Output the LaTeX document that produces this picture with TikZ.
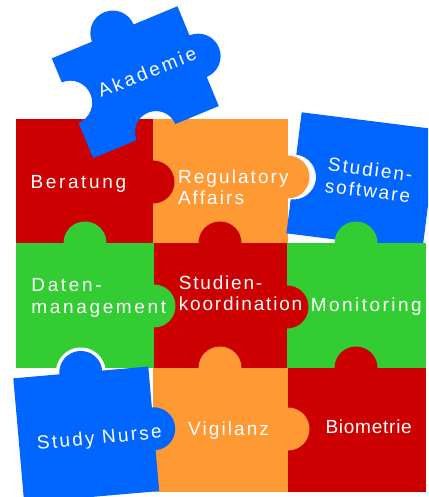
\documentclass[tikz,border=0pt]{standalone}
\usepackage{fontspec}
\setmainfont{Liberation Sans}
\definecolor{pzred}{HTML}{CC0000}
\definecolor{pzorange}{HTML}{FF9933}
\definecolor{pzgreen}{HTML}{33CC33}
\definecolor{pzblue}{HTML}{0066FF}
\tikzset{
  lbl/.style={text=white, inner sep=0pt,
    font=\fontsize{19}{21.5}\selectfont\addfontfeature{LetterSpace=#1}},
  lbl/.default=12,
  knobr/.style={radius=21.5}
}
\begin{document}
\begin{tikzpicture}[x=1pt,y=-1pt]
\useasboundingbox (0,0) rectangle (428,497);
\clip (0,0) rectangle (428,497);
% Regulatory Affairs body and tab
\fill[pzorange] (153,119) rectangle (288,243);
\fill[pzorange] (288,177) circle[knobr];
% Studiensoftware piece
\begin{scope}[shift={(362,181.4)}, rotate=-7.2]
  \fill[pzblue] (-68.5,-61) -- (68.5,-61) -- (68.5,61) -- (-68.5,61) -- (-68.5,26.7)
    arc[start angle=90, end angle=-90, radius=22.5] -- cycle;
\end{scope}
% grid bodies
\fill[pzred] (16,119) rectangle (153,243);
\fill[pzgreen] (16,243) rectangle (154,368);
\fill[pzred] (154,243) rectangle (287,368);
\fill[pzgreen] (287,243) rectangle (426,368);
\fill[pzorange] (153,368) rectangle (288,492);
\fill[pzred] (288,368) rectangle (426,492);
% grid tabs
\fill[pzred] (153,182) circle[knobr];
\fill[pzgreen] (85,243) circle[knobr];
\fill[pzgreen] (154,306) circle[knobr];
\fill[pzgreen] (356,243) circle[knobr];
\fill[pzred] (220,243) circle[knobr];
\fill[pzred] (287,307) circle[knobr];
\fill[pzred] (356,368) circle[knobr];
\fill[pzorange] (220,368) circle[knobr];
\fill[pzorange] (288,429) circle[knobr];
% Akademie piece
\begin{scope}[shift={(135.3,82.2)}, rotate=22.5]
  \fill[pzblue] (-68,-54) -- (-24.5,-54) arc[start angle=180, end angle=360, radius=22.5]
    -- (68,-54) -- (68,-22.5) arc[start angle=-90, end angle=90, radius=22.5]
    -- (68,54) -- (21,54) arc[start angle=0, end angle=-180, radius=21]
    -- (-68,54) -- (-68,16) arc[start angle=90, end angle=-90, radius=22] -- cycle;
\end{scope}
% Study Nurse piece
\begin{scope}[shift={(86.25,434.7)}, rotate=5]
  \fill[white] (0,-62.5) circle[radius=25];
  \fill[pzblue] (-67.75,-62.5) -- (-21.5,-62.5) arc[start angle=180, end angle=360, radius=21.5]
    -- (67.75,-62.5) -- (67.75,-21.5) arc[start angle=-90, end angle=90, radius=21.5]
    -- (67.75,62.5) -- (-67.75,62.5) -- cycle;
\end{scope}
% labels
\node[lbl=15, rotate=22] (akademie) at (147,72) {Akademie};
\node[lbl=14, anchor=base west] (beratung) at (30.3,188.3) {Beratung};
\node[lbl=11, anchor=north west, align=left] (regaff) at (177.8,169.4) {Regulatory\\Affairs};
\node[lbl=10.5, rotate=-7.2, align=center] (software) at (369,180) {Studien-\\software};
\node[lbl=14, anchor=north west, align=left] (daten) at (31.2,278.4) {Daten-\\management};
\node[lbl=9.5, anchor=north west, align=left] (koord) at (178.7,275.4) {Studien-\\koordination};
\node[lbl=13, anchor=base west] (monitoring) at (310.6,311.5) {Monitoring};
\node[lbl=12, rotate=5.5] (nurse) at (99.5,439) {Study Nurse};
\node[lbl=11, anchor=base west] (vigilanz) at (188,435) {Vigilanz};
\node[lbl=4, anchor=base west] (biometrie) at (325.3,433) {Biometrie};
\end{tikzpicture}
\end{document}
